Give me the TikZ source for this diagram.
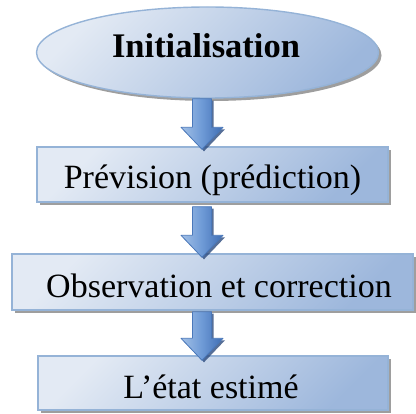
\documentclass[tikz,border=0pt]{standalone}
\usepackage{fontspec}
\setmainfont{Liberation Serif}
\usetikzlibrary{shapes.geometric,shadows,calc}

\definecolor{fillhi}{HTML}{E3EAF4}
\definecolor{filllo}{HTML}{9DB7DC}
\definecolor{edge}{HTML}{95B3D7}
\definecolor{arrhi}{HTML}{A2C0E6}
\definecolor{arrmid}{HTML}{6E9AD6}
\definecolor{arrlo}{HTML}{3F6DB3}
\definecolor{arredge}{HTML}{4A78BA}
\definecolor{arrshadow}{HTML}{2C4B7E}

\tikzset{
  stage/.style={draw=edge, line width=1.4pt,
    top color=fillhi, bottom color=filllo, shading angle=45,
    inner sep=0pt,
    drop shadow={shadow xshift=3pt, shadow yshift=-3pt, fill=black!38, opacity=1}},
  startshape/.style={stage, ellipse},
  stepbox/.style={stage, rectangle},
  lbl/.style={anchor=base, inner sep=0pt, text=black,
    font=\fontsize{34}{40}\selectfont},
  titlelbl/.style={lbl, font=\fontsize{34.5}{40}\selectfont\bfseries},
  flowarrow/.style={draw=arredge, line width=0.8pt, line join=round,
    left color=arrhi, right color=arrlo, middle color=arrmid,
    drop shadow={shadow xshift=2pt, shadow yshift=-2pt, fill=arrshadow, opacity=0.8}}
}

% block arrow: from node #1 to node #2, start gap #3, tip overlap #4
\newcommand\blockarrow[4]{%
  \path[flowarrow] let \p1=(#1.south -| axis), \p2=(#2.north -| axis) in
    (\x1-9.5pt,\y1-#3) -- (\x1+9.5pt,\y1-#3) -- (\x1+9.5pt,\y2-#4+22pt)
    -- (\x1+21pt,\y2-#4+22pt) -- (\x1,\y2-#4) -- (\x1-21pt,\y2-#4+22pt)
    -- (\x1-9.5pt,\y2-#4+22pt) -- cycle;}

\begin{document}
\begin{tikzpicture}[x=1pt, y=-1pt]
  \useasboundingbox (0,0) rectangle (416,414);
  \coordinate (axis) at (202,0);

  % stages
  \node[startshape, minimum width=342pt, minimum height=91pt] (ini) at (207.5,52.5) {};
  \node[stepbox, minimum width=351pt, minimum height=55pt] (prev) at (212.5,174.5) {};
  \node[stepbox, minimum width=401pt, minimum height=56pt] (obs) at (212.5,282) {};
  \node[stepbox, minimum width=350pt, minimum height=54pt] (est) at (213,383) {};

  % labels
  \node[titlelbl] (ini-t) at ($(ini.center)+(-1.5,5.5)$) {Initialisation};
  \node[lbl] (prev-t) at ($(prev.center)+(0,14.5)$) {Prévision (prédiction)};
  \node[lbl] (obs-t) at ($(obs.center)+(6.5,16)$) {Observation et correction};
  \node[lbl] (est-t) at ($(est.center)+(-2,16)$) {L’état estimé};

  % block arrows between stages
  \blockarrow{ini}{prev}{0pt}{3pt}
  \blockarrow{prev}{obs}{4pt}{4pt}
  \blockarrow{obs}{est}{1pt}{5pt}
\end{tikzpicture}
\end{document}
